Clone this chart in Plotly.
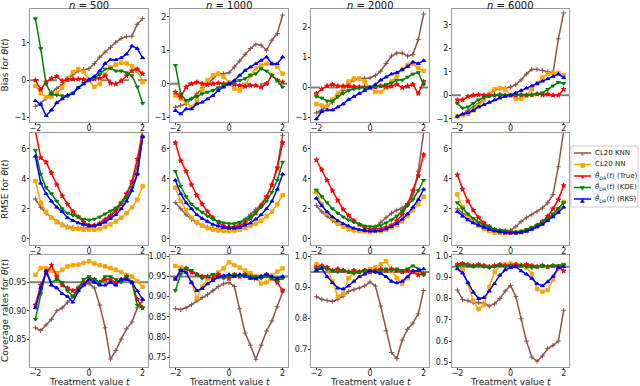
import plotly.graph_objects as go
from plotly.subplots import make_subplots

T = [-2.0, -1.8, -1.6, -1.4, -1.2, -1.0, -0.8, -0.6, -0.4, -0.2, 0.0,
     0.2, 0.4, 0.6, 0.8, 1.0, 1.2, 1.4, 1.6, 1.8, 2.0]

SAMPLE_SIZES = ["500", "1000", "2000", "6000"]
ROW_LABELS = ["Bias for <i>θ</i>(<i>t</i>)", "RMSE for <i>θ</i>(<i>t</i>)",
              "Coverage rates for <i>θ</i>(<i>t</i>)"]
SERIES_NAMES = ["CL20 KNN", "CL20 NN",
                "<i>θ̂</i><sub>DR</sub>(<i>t</i>) (True)",
                "<i>θ̂</i><sub>DR</sub>(<i>t</i>) (KDE)",
                "<i>θ̂</i><sub>DR</sub>(<i>t</i>) (RKS)"]

# ---- Bias ----
BIAS_500_KNN = [-0.70, -0.62, -0.48, -0.33, -0.22, -0.12, 0.02, 0.15, 0.25, 0.29, 0.31, 0.45, 0.62, 0.75, 0.88, 1.02, 1.12, 1.17, 1.18, 1.50, 1.65]
BIAS_500_NN = [-0.15, -0.35, -0.45, -0.45, -0.35, -0.20, 0.05, 0.22, 0.30, 0.22, 0.00, -0.18, -0.10, 0.15, 0.35, 0.42, 0.47, 0.45, 0.38, 0.25, -0.05]
BIAS_500_TRUE = [0.00, -0.25, -0.05, 0.05, 0.10, -0.02, 0.02, 0.03, 0.03, 0.02, 0.00, 0.03, 0.05, 0.12, -0.08, -0.10, -0.02, 0.12, 0.25, 0.30, 0.17]
BIAS_500_KDE = [1.65, 0.85, -0.10, -0.38, -0.40, -0.42, -0.43, -0.35, -0.20, -0.08, 0.00, 0.08, 0.15, 0.30, 0.32, 0.25, 0.25, 0.20, 0.12, -0.18, -0.62]
BIAS_500_RKS = [-0.55, -0.65, -0.95, -0.80, -0.60, -0.50, -0.40, -0.35, -0.20, -0.10, 0.02, 0.10, 0.25, 0.45, 0.55, 0.55, 0.60, 0.70, 0.92, 0.85, 0.60]

BIAS_1000_KNN = [-0.70, -0.65, -0.60, -0.45, -0.30, -0.12, 0.02, 0.18, 0.30, 0.30, 0.33, 0.50, 0.68, 0.88, 1.05, 1.18, 1.15, 1.00, 1.30, 1.50, 2.05]
BIAS_1000_NN = [-0.35, -0.45, -0.55, -0.70, -0.50, -0.20, 0.10, 0.25, 0.30, 0.20, 0.05, -0.15, -0.20, -0.05, 0.25, 0.45, 0.55, 0.60, 0.60, 0.50, 0.30]
BIAS_1000_TRUE = [-0.25, -0.40, -0.10, 0.00, 0.05, 0.00, -0.02, 0.00, 0.02, 0.00, 0.00, -0.02, -0.05, -0.08, -0.05, -0.05, -0.10, 0.00, 0.25, 0.10, 0.05]
BIAS_1000_KDE = [0.55, -0.30, -0.50, -0.45, -0.38, -0.30, -0.25, -0.20, -0.12, -0.05, 0.00, 0.05, 0.10, 0.15, 0.25, 0.30, 0.45, 0.38, 0.25, 0.10, -0.10]
BIAS_1000_RKS = [-0.80, -0.90, -0.75, -0.75, -0.60, -0.55, -0.45, -0.35, -0.20, -0.10, 0.00, 0.10, 0.25, 0.40, 0.50, 0.60, 0.70, 0.80, 0.60, 0.60, 0.80]

BIAS_2000_KNN = [-0.85, -0.75, -0.60, -0.50, -0.30, -0.10, 0.15, 0.25, 0.30, 0.30, 0.32, 0.40, 0.55, 0.80, 1.05, 1.15, 1.15, 1.05, 1.10, 1.60, 2.45]
BIAS_2000_NN = [-0.55, -0.60, -0.65, -0.40, -0.20, 0.00, 0.20, 0.30, 0.30, 0.20, 0.00, -0.15, -0.15, 0.00, 0.20, 0.40, 0.60, 0.75, 0.80, 0.65, 0.55]
BIAS_2000_TRUE = [-0.20, -0.05, 0.05, 0.10, 0.05, 0.05, 0.05, 0.03, 0.02, 0.02, 0.00, 0.02, 0.05, 0.03, 0.05, 0.10, 0.00, 0.05, 0.10, -0.20, 0.20]
BIAS_2000_KDE = [-0.30, -0.35, -0.45, -0.45, -0.30, -0.20, -0.10, -0.05, -0.02, 0.00, 0.00, 0.02, 0.05, 0.10, 0.15, 0.25, 0.25, 0.35, 0.45, 0.50, 0.10]
BIAS_2000_RKS = [-1.05, -0.80, -0.75, -0.75, -0.65, -0.55, -0.40, -0.30, -0.20, -0.10, 0.00, 0.10, 0.25, 0.35, 0.45, 0.50, 0.60, 0.70, 0.85, 0.80, 0.90]

BIAS_6000_KNN = [-0.90, -0.80, -0.65, -0.50, -0.35, -0.15, 0.05, 0.20, 0.30, 0.30, 0.35, 0.45, 0.65, 0.90, 1.10, 1.10, 1.05, 1.00, 0.95, 2.40, 3.50]
BIAS_6000_NN = [-0.90, -0.85, -0.80, -0.65, -0.45, -0.20, 0.05, 0.25, 0.30, 0.25, 0.00, -0.15, -0.15, 0.00, 0.25, 0.50, 0.75, 0.90, 0.95, 0.95, 0.85]
BIAS_6000_TRUE = [-0.20, -0.20, -0.05, 0.00, 0.02, 0.00, 0.00, 0.00, 0.02, 0.00, 0.00, 0.00, 0.02, 0.00, 0.02, 0.05, 0.02, 0.05, 0.00, 0.00, 0.25]
BIAS_6000_KDE = [-0.35, -0.55, -0.50, -0.35, -0.20, -0.10, -0.05, 0.00, 0.00, 0.00, 0.00, 0.00, 0.00, 0.00, 0.00, 0.05, 0.10, 0.25, 0.40, 0.55, 0.50]
BIAS_6000_RKS = [-0.90, -0.80, -0.75, -0.65, -0.50, -0.40, -0.30, -0.20, -0.12, -0.05, 0.00, 0.10, 0.20, 0.30, 0.40, 0.50, 0.60, 0.70, 0.80, 0.90, 0.75]

# ---- RMSE ----
RMSE_500_KNN = [2.65, 2.10, 1.70, 1.40, 1.15, 0.95, 0.80, 0.75, 0.70, 0.70, 0.75, 0.85, 1.05, 1.30, 1.60, 1.95, 2.40, 3.00, 3.70, 4.80, 6.80]
RMSE_500_NN = [3.85, 2.40, 1.80, 1.40, 1.10, 0.90, 0.75, 0.65, 0.65, 0.60, 0.60, 0.60, 0.65, 0.80, 0.95, 1.15, 1.40, 1.70, 2.10, 2.60, 3.50]
RMSE_500_TRUE = [7.20, 5.40, 5.10, 4.40, 3.60, 2.85, 2.30, 1.80, 1.45, 1.10, 0.90, 0.90, 1.00, 1.25, 1.50, 1.85, 2.30, 3.00, 3.80, 5.30, 7.20]
RMSE_500_KDE = [5.90, 4.30, 3.40, 3.00, 2.50, 2.00, 1.70, 1.55, 1.45, 1.30, 1.25, 1.30, 1.45, 1.65, 1.85, 2.05, 2.40, 2.75, 3.40, 4.30, 6.80]
RMSE_500_RKS = [5.50, 3.70, 3.00, 2.50, 2.10, 1.80, 1.40, 1.20, 1.05, 0.95, 0.85, 0.85, 0.95, 1.10, 1.35, 1.60, 2.00, 2.50, 3.20, 4.30, 6.80]

RMSE_1000_KNN = [2.40, 2.00, 1.60, 1.30, 1.05, 0.90, 0.75, 0.70, 0.65, 0.65, 0.70, 0.80, 1.00, 1.30, 1.60, 1.95, 2.30, 2.80, 3.60, 4.80, 6.90]
RMSE_1000_NN = [3.40, 2.50, 1.90, 1.40, 1.10, 0.85, 0.70, 0.60, 0.55, 0.50, 0.50, 0.55, 0.60, 0.70, 0.85, 1.00, 1.20, 1.50, 1.80, 2.30, 2.90]
RMSE_1000_TRUE = [6.40, 5.20, 4.50, 3.60, 2.90, 2.30, 1.80, 1.40, 1.10, 0.85, 0.75, 0.75, 0.85, 1.05, 1.35, 1.70, 2.20, 2.80, 3.60, 4.70, 6.40]
RMSE_1000_KDE = [4.50, 3.50, 2.80, 2.30, 2.00, 1.75, 1.50, 1.30, 1.15, 1.05, 1.00, 1.00, 1.10, 1.25, 1.45, 1.75, 2.10, 2.50, 3.10, 3.90, 5.10]
RMSE_1000_RKS = [3.90, 3.00, 2.40, 2.00, 1.60, 1.35, 1.15, 0.95, 0.85, 0.75, 0.70, 0.70, 0.75, 0.90, 1.05, 1.30, 1.60, 2.00, 2.50, 3.30, 4.30]

RMSE_2000_KNN = [2.20, 1.80, 1.50, 1.20, 1.00, 0.85, 0.70, 0.60, 0.55, 0.55, 0.55, 0.80, 1.10, 1.40, 1.70, 1.90, 2.05, 2.30, 2.90, 4.50, 7.10]
RMSE_2000_NN = [3.10, 2.30, 1.70, 1.30, 1.00, 0.80, 0.65, 0.55, 0.50, 0.50, 0.45, 0.50, 0.50, 0.60, 0.75, 0.90, 1.15, 1.50, 1.90, 2.30, 2.80]
RMSE_2000_TRUE = [5.25, 4.60, 3.90, 3.20, 2.55, 1.95, 1.55, 1.20, 0.95, 0.75, 0.62, 0.62, 0.66, 0.75, 0.90, 1.20, 1.60, 2.30, 3.20, 4.20, 5.60]
RMSE_2000_KDE = [3.25, 2.80, 2.40, 2.00, 1.70, 1.45, 1.25, 1.10, 0.95, 0.85, 0.80, 0.80, 0.90, 1.05, 1.25, 1.50, 1.85, 2.20, 2.60, 3.20, 3.90]
RMSE_2000_RKS = [2.70, 2.20, 1.80, 1.45, 1.20, 1.00, 0.85, 0.70, 0.60, 0.55, 0.50, 0.50, 0.55, 0.65, 0.80, 1.00, 1.30, 1.65, 2.10, 2.60, 3.30]

RMSE_6000_KNN = [2.00, 1.70, 1.40, 1.15, 0.95, 0.80, 0.70, 0.62, 0.58, 0.55, 0.55, 0.80, 1.15, 1.40, 1.60, 1.80, 2.05, 2.40, 2.95, 4.80, 7.20]
RMSE_6000_NN = [2.95, 2.10, 1.55, 1.15, 0.85, 0.65, 0.50, 0.40, 0.40, 0.40, 0.40, 0.40, 0.45, 0.55, 0.70, 0.85, 1.05, 1.30, 1.60, 1.95, 2.45]
RMSE_6000_TRUE = [4.25, 3.30, 2.50, 1.90, 1.40, 1.05, 0.80, 0.60, 0.50, 0.42, 0.40, 0.40, 0.45, 0.55, 0.70, 0.90, 1.15, 1.50, 2.00, 2.60, 3.55]
RMSE_6000_KDE = [2.40, 2.00, 1.65, 1.35, 1.10, 0.90, 0.75, 0.62, 0.55, 0.50, 0.45, 0.45, 0.50, 0.60, 0.75, 0.90, 1.10, 1.35, 1.65, 2.00, 2.40]
RMSE_6000_RKS = [1.80, 1.50, 1.25, 1.05, 0.90, 0.75, 0.62, 0.52, 0.45, 0.40, 0.38, 0.38, 0.42, 0.50, 0.62, 0.78, 0.95, 1.20, 1.45, 1.75, 2.10]

# ---- Coverage ----
COV_500_KNN = [0.870, 0.865, 0.875, 0.885, 0.900, 0.905, 0.915, 0.925, 0.935, 0.945, 0.948, 0.940, 0.910, 0.870, 0.815, 0.830, 0.850, 0.868, 0.880, 0.905, 0.918]
COV_500_NN = [0.963, 0.975, 0.975, 0.970, 0.966, 0.972, 0.978, 0.980, 0.981, 0.984, 0.987, 0.983, 0.980, 0.978, 0.975, 0.972, 0.968, 0.963, 0.960, 0.952, 0.942]
COV_500_TRUE = [0.910, 0.945, 0.965, 0.980, 0.960, 0.945, 0.940, 0.935, 0.940, 0.950, 0.955, 0.955, 0.950, 0.955, 0.955, 0.950, 0.955, 0.960, 0.950, 0.920, 0.905]
COV_500_KDE = [0.885, 0.930, 0.970, 0.950, 0.955, 0.950, 0.935, 0.925, 0.940, 0.955, 0.960, 0.955, 0.950, 0.960, 0.960, 0.955, 0.950, 0.960, 0.950, 0.910, 0.905]
COV_500_RKS = [0.905, 0.940, 0.970, 0.945, 0.940, 0.930, 0.925, 0.915, 0.935, 0.945, 0.955, 0.950, 0.945, 0.945, 0.950, 0.945, 0.955, 0.955, 0.950, 0.935, 0.920]

COV_1000_KNN = [0.870, 0.868, 0.872, 0.880, 0.890, 0.898, 0.905, 0.915, 0.925, 0.932, 0.935, 0.925, 0.870, 0.810, 0.780, 0.745, 0.780, 0.815, 0.840, 0.875, 0.912]
COV_1000_NN = [0.976, 0.972, 0.965, 0.935, 0.896, 0.925, 0.944, 0.952, 0.960, 0.970, 0.985, 0.978, 0.972, 0.965, 0.958, 0.950, 0.932, 0.935, 0.952, 0.962, 0.970]
COV_1000_TRUE = [0.945, 0.965, 0.970, 0.960, 0.955, 0.950, 0.950, 0.945, 0.955, 0.950, 0.945, 0.955, 0.950, 0.955, 0.950, 0.945, 0.950, 0.955, 0.945, 0.935, 0.915]
COV_1000_KDE = [0.915, 0.955, 0.970, 0.965, 0.955, 0.945, 0.950, 0.955, 0.950, 0.945, 0.950, 0.955, 0.950, 0.955, 0.950, 0.950, 0.945, 0.950, 0.945, 0.940, 0.945]
COV_1000_RKS = [0.943, 0.965, 0.960, 0.935, 0.915, 0.920, 0.932, 0.940, 0.948, 0.952, 0.955, 0.950, 0.955, 0.950, 0.945, 0.945, 0.950, 0.955, 0.950, 0.945, 0.950]

COV_2000_KNN = [0.870, 0.862, 0.858, 0.855, 0.862, 0.872, 0.887, 0.893, 0.898, 0.905, 0.918, 0.905, 0.840, 0.760, 0.690, 0.670, 0.730, 0.765, 0.785, 0.815, 0.890]
COV_2000_NN = [0.975, 0.968, 0.960, 0.920, 0.870, 0.880, 0.930, 0.950, 0.950, 0.955, 0.960, 0.965, 0.975, 0.985, 0.955, 0.930, 0.912, 0.930, 0.950, 0.948, 0.944]
COV_2000_TRUE = [0.965, 0.970, 0.965, 0.955, 0.960, 0.955, 0.950, 0.955, 0.950, 0.955, 0.950, 0.955, 0.960, 0.955, 0.960, 0.955, 0.950, 0.955, 0.950, 0.940, 0.945]
COV_2000_KDE = [0.960, 0.965, 0.960, 0.955, 0.950, 0.955, 0.950, 0.945, 0.950, 0.955, 0.955, 0.950, 0.955, 0.960, 0.955, 0.960, 0.955, 0.960, 0.970, 0.960, 0.940]
COV_2000_RKS = [0.955, 0.962, 0.935, 0.915, 0.898, 0.895, 0.905, 0.920, 0.935, 0.943, 0.954, 0.950, 0.945, 0.935, 0.920, 0.915, 0.920, 0.935, 0.954, 0.955, 0.960]

COV_6000_KNN = [0.840, 0.795, 0.790, 0.780, 0.782, 0.778, 0.765, 0.775, 0.800, 0.835, 0.862, 0.810, 0.705, 0.600, 0.525, 0.505, 0.530, 0.565, 0.580, 0.600, 0.745]
COV_6000_NN = [0.958, 0.935, 0.870, 0.790, 0.750, 0.770, 0.855, 0.925, 0.955, 0.960, 0.965, 0.960, 0.955, 0.945, 0.915, 0.845, 0.832, 0.840, 0.890, 0.940, 0.958]
COV_6000_TRUE = [0.960, 0.965, 0.960, 0.955, 0.960, 0.955, 0.950, 0.955, 0.960, 0.955, 0.955, 0.960, 0.955, 0.960, 0.955, 0.950, 0.955, 0.950, 0.955, 0.950, 0.930]
COV_6000_KDE = [0.950, 0.960, 0.955, 0.950, 0.955, 0.950, 0.945, 0.950, 0.955, 0.950, 0.955, 0.950, 0.955, 0.950, 0.945, 0.950, 0.955, 0.950, 0.955, 0.955, 0.960]
COV_6000_RKS = [0.940, 0.920, 0.875, 0.830, 0.800, 0.805, 0.835, 0.870, 0.910, 0.935, 0.945, 0.950, 0.930, 0.915, 0.895, 0.870, 0.860, 0.880, 0.905, 0.945, 0.950]

PANELS = [
    [[BIAS_500_KNN, BIAS_500_NN, BIAS_500_TRUE, BIAS_500_KDE, BIAS_500_RKS],
     [BIAS_1000_KNN, BIAS_1000_NN, BIAS_1000_TRUE, BIAS_1000_KDE, BIAS_1000_RKS],
     [BIAS_2000_KNN, BIAS_2000_NN, BIAS_2000_TRUE, BIAS_2000_KDE, BIAS_2000_RKS],
     [BIAS_6000_KNN, BIAS_6000_NN, BIAS_6000_TRUE, BIAS_6000_KDE, BIAS_6000_RKS]],
    [[RMSE_500_KNN, RMSE_500_NN, RMSE_500_TRUE, RMSE_500_KDE, RMSE_500_RKS],
     [RMSE_1000_KNN, RMSE_1000_NN, RMSE_1000_TRUE, RMSE_1000_KDE, RMSE_1000_RKS],
     [RMSE_2000_KNN, RMSE_2000_NN, RMSE_2000_TRUE, RMSE_2000_KDE, RMSE_2000_RKS],
     [RMSE_6000_KNN, RMSE_6000_NN, RMSE_6000_TRUE, RMSE_6000_KDE, RMSE_6000_RKS]],
    [[COV_500_KNN, COV_500_NN, COV_500_TRUE, COV_500_KDE, COV_500_RKS],
     [COV_1000_KNN, COV_1000_NN, COV_1000_TRUE, COV_1000_KDE, COV_1000_RKS],
     [COV_2000_KNN, COV_2000_NN, COV_2000_TRUE, COV_2000_KDE, COV_2000_RKS],
     [COV_6000_KNN, COV_6000_NN, COV_6000_TRUE, COV_6000_KDE, COV_6000_RKS]],
]

# ---- styling / layout ----
COLORS = ["#8c564b", "#ffa500", "#ff0000", "#008000", "#0000ff"]
SYMBOLS = ["cross-thin", "square", "star", "triangle-down", "triangle-up"]
LEGEND_GLYPHS = ["+", "■", "★", "▼", "▲"]
W, H = 640, 386
COL_PX = [(30, 148), (170, 288), (311, 429), (452, 569)]
ROW_PX = [(9, 122), (133, 245), (255, 367)]
Y_RANGES = [
    [[-1.12, 1.91], [-1.14, 2.23], [-1.15, 2.62], [-1.14, 3.67]],
    [[-0.42, 7.05]] * 4,
    [[0.801, 0.998], [0.726, 1.003], [0.643, 1.005], [0.478, 1.005]],
]
Y_TICKS = [
    [[-1, 0, 1], [-1, 0, 1, 2], [-1, 0, 1, 2], [-1, 0, 1, 2, 3]],
    [[0, 2, 4, 6]] * 4,
    [[0.85, 0.90, 0.95], [0.75, 0.80, 0.85, 0.90, 0.95, 1.00],
     [0.7, 0.8, 0.9, 1.0], [0.5, 0.6, 0.7, 0.8, 0.9, 1.0]],
]
Y_FMT = [[None] * 4, [None] * 4, [".2f", ".2f", ".1f", ".1f"]]

FONT = "DejaVu Sans"
fig = make_subplots(rows=3, cols=4)

for r in range(3):
    for c in range(4):
        for k in range(5):
            fig.add_trace(go.Scatter(
                x=T, y=PANELS[r][c][k], mode="lines+markers",
                name=SERIES_NAMES[k], showlegend=False,
                line=dict(color=COLORS[k], width=1.5),
                marker=dict(symbol=SYMBOLS[k], size=3.5, color=COLORS[k],
                            line=dict(color=COLORS[k], width=1)),
            ), row=r + 1, col=c + 1)
        if r == 0:
            fig.add_hline(y=0, line=dict(color="#808080", width=2, dash="dash"),
                          row=r + 1, col=c + 1, layer="below")
        elif r == 2:
            fig.add_hline(y=0.95, line=dict(color="#808080", width=2),
                          row=r + 1, col=c + 1, layer="below")

for r in range(3):
    for c in range(4):
        idx = r * 4 + c + 1
        xn = "xaxis" if idx == 1 else f"xaxis{idx}"
        yn = "yaxis" if idx == 1 else f"yaxis{idx}"
        x0, x1 = COL_PX[c]
        y0, y1 = ROW_PX[r]
        common = dict(showline=True, mirror=True, linecolor="#9a9a9a", linewidth=1,
                      showgrid=False, zeroline=False, ticks="outside", ticklen=2,
                      automargin=False,
                      tickcolor="#333333", tickfont=dict(family=FONT, size=8, color="#222222"))
        fig.layout[xn].update(domain=[x0 / W, x1 / W], range=[-2.2, 2.2],
                              tickvals=[-2, 0, 2], ticklabelstandoff=-4, **common)
        yd = dict(domain=[1 - y1 / H, 1 - y0 / H], range=Y_RANGES[r][c],
                  tickvals=Y_TICKS[r][c], ticklabelstandoff=-1, **common)
        if Y_FMT[r][c]:
            yd["tickformat"] = Y_FMT[r][c]
        fig.layout[yn].update(**yd)

annotations = []
for c, n in enumerate(SAMPLE_SIZES):
    cx = (COL_PX[c][0] + COL_PX[c][1]) / 2 / W
    annotations.append(dict(text=f"<i>n</i> = {n}", x=cx, y=1, xref="paper", yref="paper",
                            xanchor="center", yanchor="top", yshift=2, showarrow=False,
                            font=dict(family=FONT, size=10, color="#111111")))
    annotations.append(dict(text="Treatment value <i>t</i>", x=cx, y=1 - 381.5 / H, xref="paper",
                            yref="paper", xanchor="center", yanchor="middle", showarrow=False,
                            font=dict(family=FONT, size=9, color="#222222")))
for r, lab in enumerate(ROW_LABELS):
    cy = 1 - (ROW_PX[r][0] + ROW_PX[r][1]) / 2 / H
    annotations.append(dict(text=lab, x=5 / W, y=cy, xref="paper", yref="paper",
                            xanchor="center", yanchor="middle", textangle=-90, showarrow=False,
                            font=dict(family=FONT, size=9, color="#222222")))

# hand-built legend box (text + line samples), to fit the narrow right margin
LEG_BOX = (571, 146, 638, 207)
LEG_ROWS = [153, 164.5, 176, 187.5, 199]
shapes = [dict(type="rect", xref="paper", yref="paper",
               x0=LEG_BOX[0] / W, x1=LEG_BOX[2] / W, y0=1 - LEG_BOX[3] / H, y1=1 - LEG_BOX[1] / H,
               line=dict(color="#cccccc", width=1), fillcolor="white", layer="above")]
for k in range(5):
    yy = 1 - LEG_ROWS[k] / H
    shapes.append(dict(type="line", xref="paper", yref="paper", x0=574 / W, x1=591 / W,
                       y0=yy, y1=yy, line=dict(color=COLORS[k], width=1.5), layer="above"))
    annotations.append(dict(text=LEGEND_GLYPHS[k], x=582.5 / W, y=yy, xref="paper", yref="paper",
                            xanchor="center", yanchor="middle", showarrow=False,
                            font=dict(family=FONT, size=6, color=COLORS[k])))
    annotations.append(dict(text=SERIES_NAMES[k], x=593 / W, y=yy, xref="paper", yref="paper",
                            xanchor="left", yanchor="middle", showarrow=False,
                            font=dict(family=FONT, size=7, color="#222222")))

fig.update_layout(
    width=W, height=H, margin=dict(l=0, r=0, t=0, b=0),
    paper_bgcolor="white", plot_bgcolor="white", showlegend=False,
    annotations=annotations, shapes=fig.layout.shapes + tuple(shapes),
)

fig.write_html("out.html", config={"displayModeBar": False},
               post_script="document.body.style.margin='0';document.body.style.overflow='hidden';")
